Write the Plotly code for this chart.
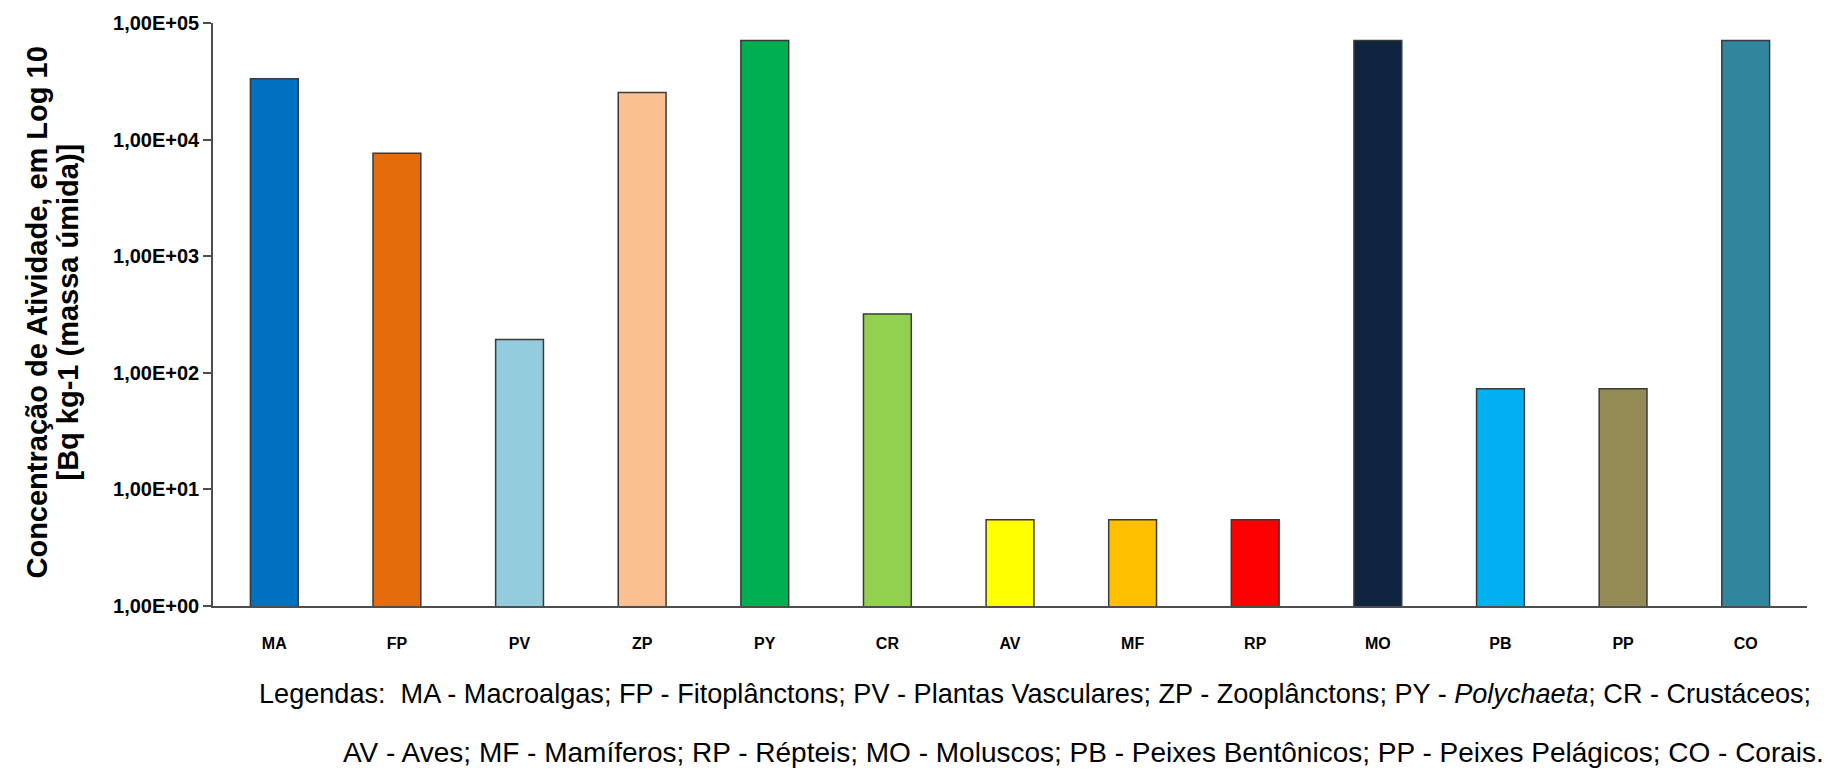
import plotly.graph_objects as go

# Activity concentration by biota group (Bq/kg, wet mass) on a log10 scale
categories = ["MA", "FP", "PV", "ZP", "PY", "CR", "AV", "MF", "RP", "MO", "PB", "PP", "CO"]
values = [33300, 7640, 193, 25300, 70700, 319, 5.5, 5.5, 5.5, 70700, 73, 73, 70700]
colors = ["#0070C0", "#E46C0A", "#93CDDD", "#FAC090", "#00B050", "#92D050", "#FFFF00",
          "#FFC000", "#FF0000", "#0F243E", "#00B0F0", "#948A54", "#31859C"]
tick_vals = [1, 10, 100, 1000, 10000, 100000]
tick_text = ["1,00E+00", "1,00E+01", "1,00E+02", "1,00E+03", "1,00E+04", "1,00E+05"]

title_lines = ["Concentração de Atividade, em Log 10", "[Bq kg-1 (massa úmida)]"]
legend_lines = [
    "Legendas:  MA - Macroalgas; FP - Fitoplânctons; PV - Plantas Vasculares; "
    "ZP - Zooplânctons; PY - <i>Polychaeta</i>; CR - Crustáceos;",
    "AV - Aves; MF - Mamíferos; RP - Répteis; MO - Moluscos; PB - Peixes Bentônicos; "
    "PP - Peixes Pelágicos; CO - Corais.",
]

W, H = 1845, 773
ML, MR, MT, MB = 213, 38, 20, 167
PW, PH = W - ML - MR, H - MT - MB


def px_x(x):
    return (x - ML) / PW


def px_y(y):
    return 1 - (y - MT) / PH


fig = go.Figure(
    go.Bar(
        x=categories,
        y=values,
        marker=dict(color=colors, line=dict(color="#3a3a3a", width=1.5)),
        width=0.39,
        hoverinfo="x+y",
    )
)

fig.update_layout(
    width=W,
    height=H,
    margin=dict(l=ML, r=MR, t=MT, b=MB),
    paper_bgcolor="white",
    plot_bgcolor="white",
    showlegend=False,
    font=dict(family="Liberation Sans, Arial, sans-serif", color="black"),
)

fig.update_xaxes(
    showline=True,
    linecolor="#4d4d4d",
    linewidth=1.5,
    ticks="outside",
    ticklen=22,
    tickcolor="rgba(0,0,0,0)",
    tickfont=dict(size=16, family="Liberation Sans, Arial, sans-serif", weight="bold"),
    showgrid=False,
    zeroline=False,
)

fig.update_yaxes(
    type="log",
    range=[0, 5],
    tickvals=tick_vals,
    ticktext=tick_text,
    showline=True,
    linecolor="#4d4d4d",
    linewidth=1.5,
    ticks="outside",
    ticklen=8,
    tickwidth=1.5,
    tickcolor="#4d4d4d",
    tickfont=dict(size=20, family="Liberation Sans, Arial, sans-serif", weight="bold"),
    showgrid=False,
    zeroline=False,
)

# Two-line rotated axis title
title_x = [37, 68]
for line, xp in zip(title_lines, title_x):
    fig.add_annotation(
        text=line,
        xref="paper", yref="paper",
        x=px_x(xp), y=px_y(311),
        xanchor="center", yanchor="middle",
        textangle=-90,
        showarrow=False,
        font=dict(size=29, family="Liberation Sans, Arial, sans-serif", weight="bold", color="black"),
    )

# Abbreviation key under the chart
for line, xp, yp, fs in zip(legend_lines, [257, 341], [694, 753], [27.1, 28.0]):
    fig.add_annotation(
        text=line,
        xref="paper", yref="paper",
        x=px_x(xp), y=px_y(yp),
        xanchor="left", yanchor="middle",
        showarrow=False,
        font=dict(size=fs, family="Liberation Sans, Arial, sans-serif", color="black"),
    )

fig.write_html("out.html")
